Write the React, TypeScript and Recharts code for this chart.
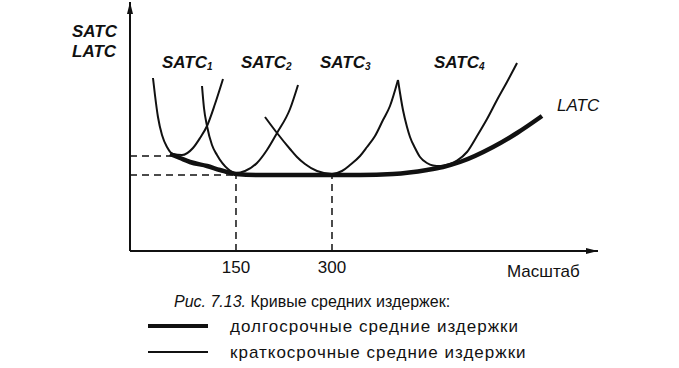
import React from 'react';
import { LineChart, Line, XAxis, YAxis, ReferenceLine, ReferenceDot } from 'recharts';

// scale of production (x) and average cost (y)
const satc1 = [
  { q: 20.3, c: 86.5 }, { q: 23.4, c: 78 }, { q: 28.1, c: 67 }, { q: 34.4, c: 58 },
  { q: 42.2, c: 52 }, { q: 51.6, c: 48.5 }, { q: 65.6, c: 48 }, { q: 82.8, c: 51.5 },
  { q: 93.8, c: 56.5 }, { q: 104.7, c: 62.5 }, { q: 117.2, c: 73.5 }, { q: 129.7, c: 86 },
];
const satc2 = [
  { q: 96.9, c: 82.5 }, { q: 100, c: 71.5 }, { q: 104.7, c: 62.5 }, { q: 112.5, c: 53 },
  { q: 120.3, c: 48 }, { q: 137.5, c: 41 }, { q: 150, c: 39 }, { q: 164.1, c: 40 },
  { q: 182.8, c: 44 }, { q: 198.4, c: 50.5 }, { q: 214.1, c: 59 }, { q: 234.4, c: 71 },
  { q: 246.9, c: 83 },
];
const satc3 = [
  { q: 195.3, c: 67 }, { q: 214.1, c: 59 }, { q: 234.4, c: 51 }, { q: 245.3, c: 47 },
  { q: 257.8, c: 43.5 }, { q: 276.6, c: 40 }, { q: 300, c: 38.5 }, { q: 315.6, c: 40 },
  { q: 328.1, c: 43 }, { q: 343.8, c: 47.5 }, { q: 354.7, c: 52 }, { q: 367.2, c: 57.5 },
  { q: 379.7, c: 65.5 }, { q: 390.6, c: 72.5 }, { q: 403.1, c: 85.5 },
];
const satc4 = [
  { q: 403.1, c: 85.5 }, { q: 410.9, c: 70.5 }, { q: 417.2, c: 62 }, { q: 421.9, c: 57 },
  { q: 429.7, c: 51.5 }, { q: 437.5, c: 47 }, { q: 448.4, c: 44 }, { q: 457.8, c: 42.8 },
  { q: 468.8, c: 42.5 }, { q: 481.3, c: 43.3 }, { q: 495.3, c: 45.2 }, { q: 510.9, c: 49.5 },
  { q: 526.6, c: 57.5 }, { q: 542.2, c: 66 }, { q: 557.8, c: 75.5 }, { q: 573.4, c: 84.5 },
  { q: 589.1, c: 94 },
];
const latc = [
  { q: 46.9, c: 48.5 }, { q: 62.5, c: 46.5 }, { q: 78.1, c: 44.5 }, { q: 104.7, c: 42.5 },
  { q: 125, c: 40.5 }, { q: 150, c: 38.5 }, { q: 187.5, c: 38 }, { q: 250, c: 38 },
  { q: 300, c: 38 }, { q: 343.8, c: 38 }, { q: 395.3, c: 38.5 }, { q: 448.4, c: 40.5 },
  { q: 473.4, c: 42 }, { q: 500, c: 44.5 }, { q: 551.6, c: 52 }, { q: 589.1, c: 59 },
  { q: 628.1, c: 67.5 },
];

const xTicks = [150, 300];
const xDomain = [-15.6, 715.6];
const yDomain = [0, 124.5];
const minCost = 38;
const tangentCost = 47.5;
const tangentQ = 51.6;

const font = '"Liberation Sans", Arial, sans-serif';
const ink = '#111';

const QTick = (props: any) => (
  <text x={props.x} y={273} textAnchor="middle" fontSize={17} fontFamily={font} fill={ink}>
    {props.payload.value}
  </text>
);

const UpArrow = (props: any) => (
  <path d={`M${props.cx},${props.cy} L${props.cx - 3},${props.cy + 12} L${props.cx + 3},${props.cy + 12} Z`} fill={ink} />
);
const RightArrow = (props: any) => (
  <path d={`M${props.cx},${props.cy} L${props.cx - 12},${props.cy - 3} L${props.cx - 12},${props.cy + 3} Z`} fill={ink} />
);

const dash = '7 5';

export default function App() {
  return (
    <div style={{ position: 'absolute', left: 0, top: 0, width: 679, height: 368, background: '#fff' }}>
      <LineChart
        width={679}
        height={368}
        margin={{ top: 2, right: 81, bottom: 87, left: 129 }}
      >
        <XAxis
          type="number"
          dataKey="q"
          domain={xDomain}
          ticks={xTicks}
          tick={<QTick />}
          tickLine={false}
          height={30}
          axisLine={{ stroke: ink, strokeWidth: 2 }}
          allowDataOverflow
        />
        <YAxis
          type="number"
          dataKey="c"
          domain={yDomain}
          tick={false}
          tickLine={false}
          width={1}
          axisLine={{ stroke: ink, strokeWidth: 2 }}
          allowDataOverflow
        />
        <ReferenceLine
          segment={[{ x: xDomain[0], y: tangentCost }, { x: tangentQ, y: tangentCost }]}
          stroke={ink}
          strokeWidth={1.5}
          strokeDasharray={dash}
        />
        <ReferenceLine
          segment={[{ x: xDomain[0], y: minCost }, { x: xTicks[0], y: minCost }]}
          stroke={ink}
          strokeWidth={1.5}
          strokeDasharray={dash}
        />
        <ReferenceLine
          segment={[{ x: xTicks[0], y: 0 }, { x: xTicks[0], y: minCost }]}
          stroke={ink}
          strokeWidth={1.5}
          strokeDasharray={dash}
        />
        <ReferenceLine
          segment={[{ x: xTicks[1], y: 0 }, { x: xTicks[1], y: minCost }]}
          stroke={ink}
          strokeWidth={1.5}
          strokeDasharray={dash}
        />
        <Line data={satc1} dataKey="c" type="monotone" stroke={ink} strokeWidth={2} dot={false} activeDot={false} isAnimationActive={false} />
        <Line data={satc2} dataKey="c" type="monotone" stroke={ink} strokeWidth={2} dot={false} activeDot={false} isAnimationActive={false} />
        <Line data={satc3} dataKey="c" type="monotone" stroke={ink} strokeWidth={2} dot={false} activeDot={false} isAnimationActive={false} />
        <Line data={satc4} dataKey="c" type="monotone" stroke={ink} strokeWidth={2} dot={false} activeDot={false} isAnimationActive={false} />
        <Line data={latc} dataKey="c" type="monotone" stroke={ink} strokeWidth={4.5} dot={false} activeDot={false} isAnimationActive={false} />
        <ReferenceDot x={xDomain[0]} y={yDomain[1]} r={0} shape={<UpArrow />} />
        <ReferenceDot x={xDomain[1]} y={0} r={0} shape={<RightArrow />} />
      </LineChart>
      <svg
        width={679}
        height={368}
        style={{ position: 'absolute', left: 0, top: 0, pointerEvents: 'none' }}
        fontFamily={font}
        fill={ink}
      >
        <g fontStyle="italic" fontWeight="bold" fontSize={17}>
          <text x={72} y={37}>SATC</text>
          <text x={72} y={57}>LATC</text>
          <text x={162} y={68}>SATC<tspan fontSize={10} dy={2}>1</tspan></text>
          <text x={241} y={68}>SATC<tspan fontSize={10} dy={2}>2</tspan></text>
          <text x={320} y={68}>SATC<tspan fontSize={10} dy={2}>3</tspan></text>
          <text x={434} y={68}>SATC<tspan fontSize={10} dy={2}>4</tspan></text>
        </g>
        <text x={557} y={111} fontStyle="italic" fontSize={17}>LATC</text>
        <text x={507} y={277} fontSize={17}>Масштаб</text>
        <text x={174} y={307} fontSize={16}>
          <tspan fontStyle="italic">Рис. 7.13.</tspan> Кривые средних издержек:
        </text>
        <line x1={148} x2={208} y1={326} y2={326} stroke={ink} strokeWidth={4} />
        <text x={230} y={332} fontSize={17} letterSpacing={1}>долгосрочные средние издержки</text>
        <line x1={148} x2={208} y1={352} y2={352} stroke={ink} strokeWidth={2} />
        <text x={230} y={358} fontSize={17} letterSpacing={1}>краткосрочные средние издержки</text>
      </svg>
    </div>
  );
}
